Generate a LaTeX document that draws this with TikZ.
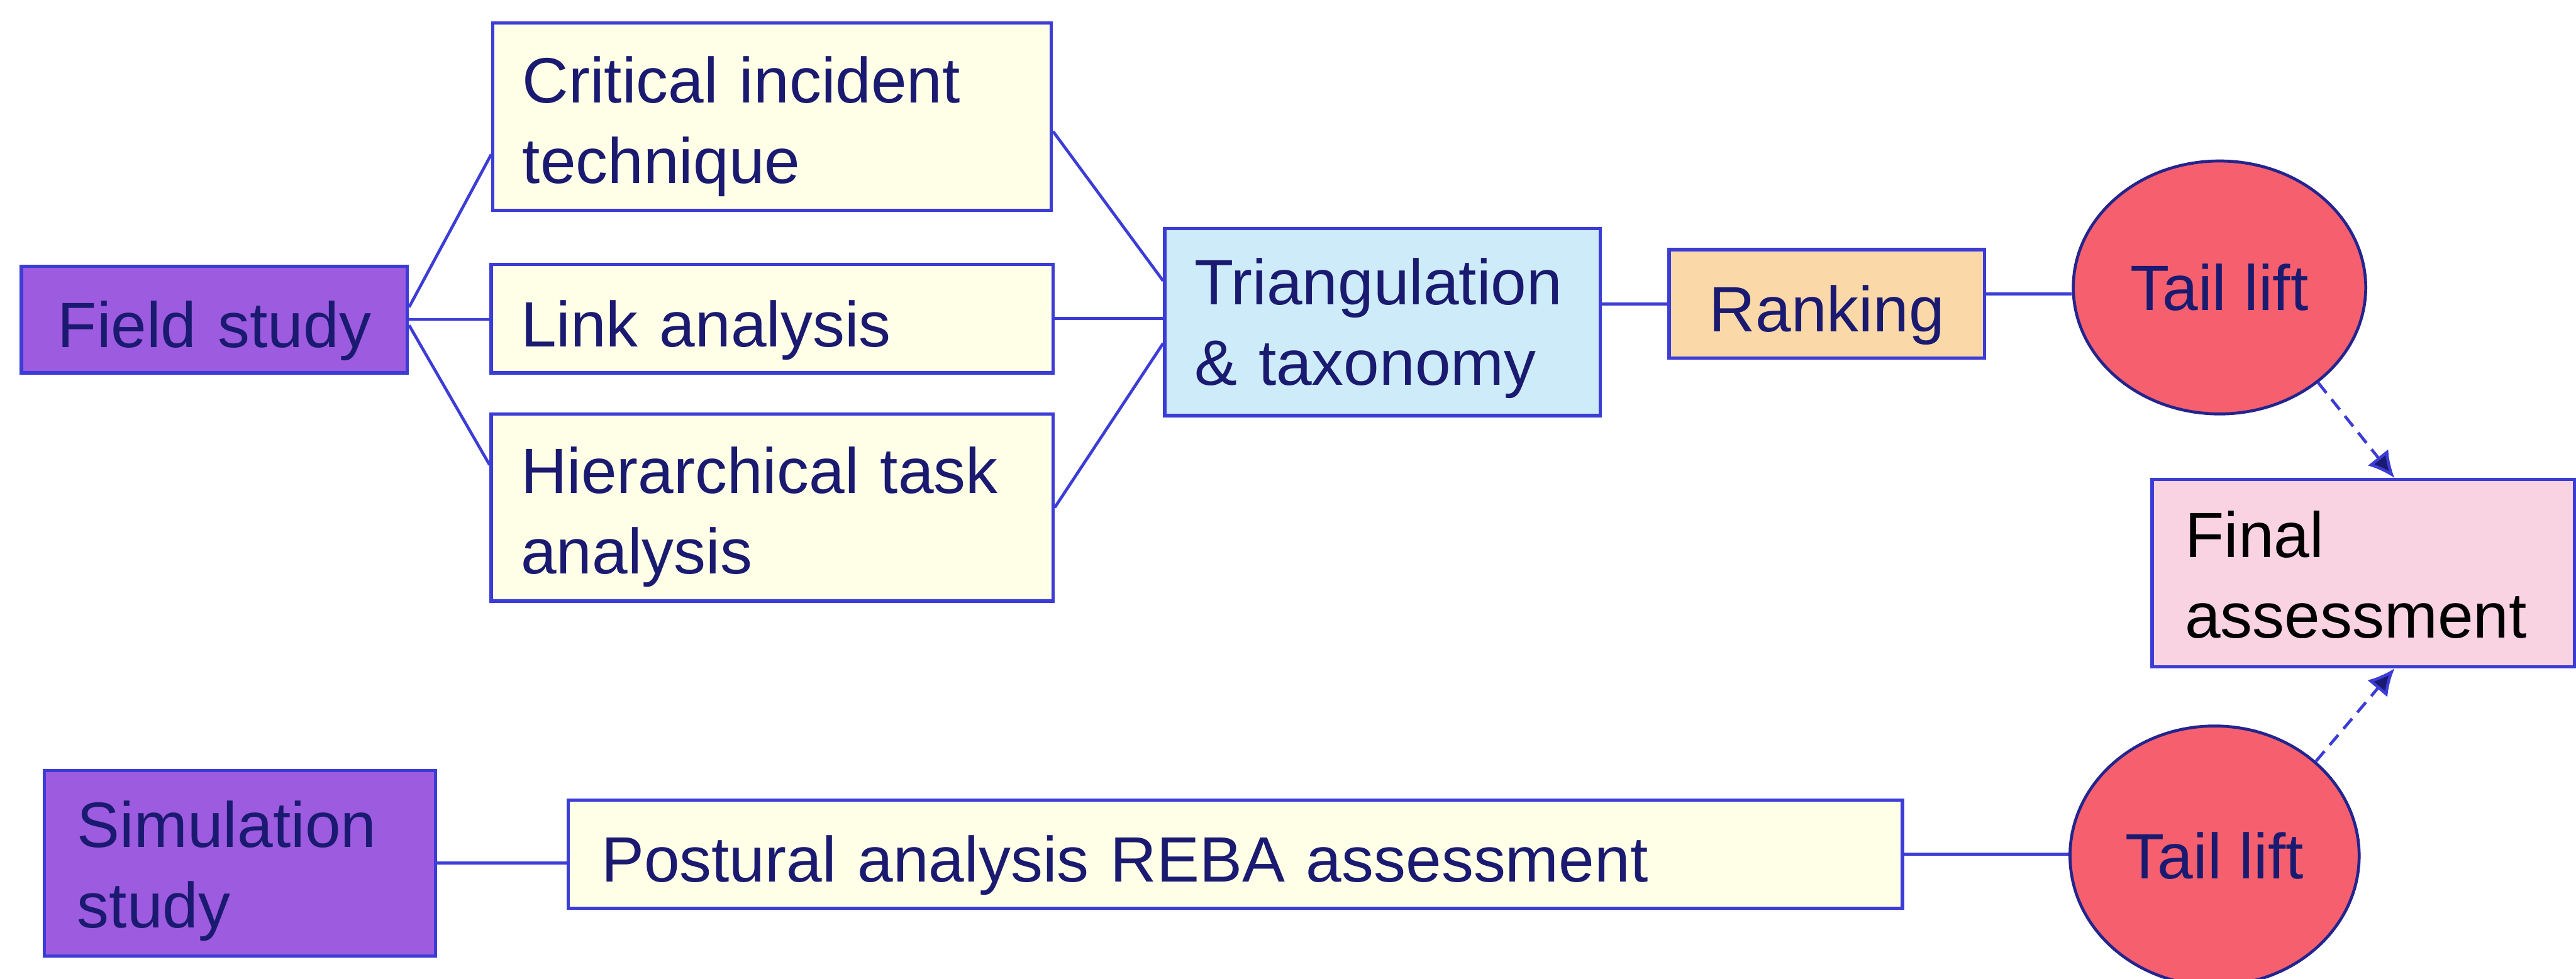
\documentclass[tikz,border=0pt]{standalone}
\usepackage{fontspec}
\setmainfont{Liberation Sans}
\usetikzlibrary{shapes.geometric,arrows.meta}

\definecolor{edgeblue}{HTML}{3C3CD6}
\definecolor{inkblue}{HTML}{1A1A70}
\definecolor{studyfill}{HTML}{9D5BE0}
\definecolor{methodfill}{HTML}{FFFEE6}
\definecolor{trifill}{HTML}{CDEBF8}
\definecolor{rankfill}{HTML}{FAD8A8}
\definecolor{liftfill}{HTML}{F6606E}
\definecolor{finalfill}{HTML}{F9D3E2}

\tikzset{
  txt/.style={font=\fontsize{19.5pt}{24.5pt}\selectfont, text=inkblue},
  boxbase/.style={txt, rectangle, draw=edgeblue, line width=1pt, inner ysep=0pt},
  oneline/.style={text height=21pt, text depth=4pt},
  study/.style={boxbase, fill=studyfill},
  method/.style={boxbase, fill=methodfill, align=left, inner xsep=9pt},
  synth/.style={boxbase, fill=trifill, align=left, inner xsep=9pt},
  rankbox/.style={boxbase, fill=rankfill, align=center, inner xsep=0pt},
  finalbox/.style={boxbase, fill=finalfill, align=left, inner xsep=10pt, text=black},
  lift/.style={txt, ellipse, draw=inkblue!70!edgeblue, line width=0.9pt, fill=liftfill, inner sep=0pt},
  link/.style={draw=edgeblue, line width=0.9pt},
  feed/.style={draw=edgeblue, line width=0.9pt, dash pattern=on 4pt off 2.5pt,
    -{Latex[length=8pt,width=8pt,fill=inkblue]}},
}

\begin{document}
\begin{tikzpicture}[x=0.5pt,y=-0.5pt]
\useasboundingbox (0,0) rectangle (1568,596);
\fill[white] (0,0) rectangle (1568,596);

% field study branch
\node[study, oneline, align=center, text width=117.5pt, minimum height=32.5pt, inner xsep=0pt]
  (field) at (130.5,194.5) {Field study};
\node[method, text height=20pt, text width=152pt, minimum height=57pt] (crit) at (470,71)
  {Critical incident\\technique};
\node[method, oneline, text width=153pt, minimum height=33pt] (linkan) at (470,194)
  {Link analysis};
\node[method, text height=20pt, text width=153pt, minimum height=57pt] (hta) at (470,309)
  {Hierarchical task\\analysis};
\node[synth, text height=18pt, text width=114.5pt, minimum height=57pt] (tri) at (841.5,196)
  {Triangulation\\\& taxonomy};
\node[rankbox, oneline, text width=96pt, minimum height=33pt] (rank) at (1112,185) {Ranking};
\node[lift, minimum width=89pt, minimum height=77pt] (tl1) at (1351,175) {Tail lift};

% final assessment
\node[finalbox, text height=15pt, text width=108.5pt, minimum height=57pt] (final) at (1438.5,349)
  {Final\\assessment};

% simulation branch
\node[study, text height=19pt, align=left, text width=99pt, minimum height=56.5pt, inner xsep=10pt]
  (sim) at (146,525.5) {Simulation\\study};
\node[method, oneline, inner xsep=10pt, text width=386pt, minimum height=33pt] (post) at (752,520)
  {Postural analysis REBA assessment};
\node[lift, minimum width=88pt, minimum height=79pt] (tl2) at (1348,521) {Tail lift};

% connectors
\draw[link] ([yshift=3.75pt]field.east) -- ([yshift=-11.5pt]crit.west);
\draw[link] (field.east) -- (field.east -| linkan.west);
\draw[link] ([yshift=-1.75pt]field.east) -- ([yshift=13pt]hta.west);

\draw[link] ([yshift=-4.5pt]crit.east) -- ([yshift=12.5pt]tri.west);
\draw[link] (linkan.east) -- (linkan.east -| tri.west);
\draw[link] (hta.east) -- ([yshift=-6.5pt]tri.west);

\draw[link] (rank.west -| tri.east) -- (rank.west);
\draw[link] ([yshift=3pt]rank.east) -- ([yshift=3pt]rank.east -| tl1.west);

\draw[link] (sim.east) -- (sim.east -| post.west);
\draw[link] (post.east) -- (post.east -| tl2.west);

\draw[feed] (tl1.-44) -- ([xshift=9.5pt]final.north);
\draw[feed] (tl2.43) -- ([xshift=9.5pt]final.south);
\end{tikzpicture}
\end{document}
